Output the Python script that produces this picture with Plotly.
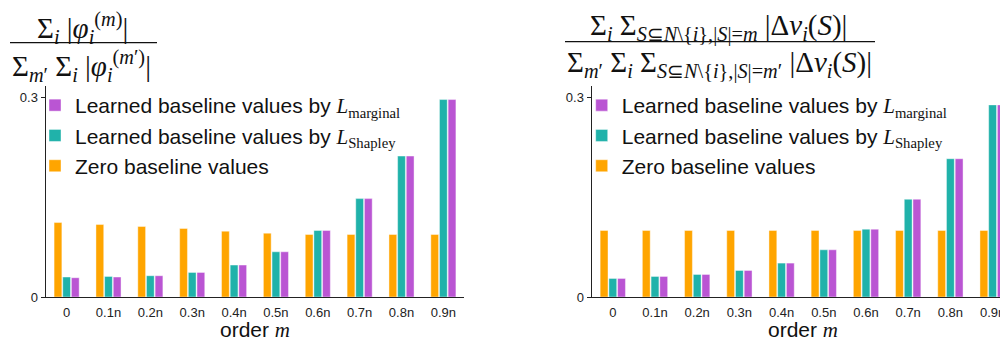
import plotly.graph_objects as go

categories = ["0", "0.1n", "0.2n", "0.3n", "0.4n", "0.5n", "0.6n", "0.7n", "0.8n", "0.9n"]

# Left panel: normalized |phi| strength
left_zero = [0.112, 0.109, 0.106, 0.103, 0.099, 0.096, 0.094, 0.094, 0.094, 0.094]
left_shapley = [0.030, 0.031, 0.032, 0.037, 0.048, 0.068, 0.100, 0.148, 0.212, 0.297]
left_marginal = [0.029, 0.030, 0.032, 0.037, 0.048, 0.068, 0.100, 0.148, 0.212, 0.297]

# Right panel: normalized |Delta v| strength
right_zero = [0.100, 0.100, 0.100, 0.100, 0.100, 0.100, 0.100, 0.100, 0.100, 0.100]
right_shapley = [0.028, 0.031, 0.034, 0.040, 0.051, 0.071, 0.102, 0.147, 0.208, 0.289]
right_marginal = [0.028, 0.031, 0.034, 0.040, 0.051, 0.071, 0.102, 0.147, 0.208, 0.289]

ORANGE = "#FFA500"
TEAL = "#20B2AA"
PURPLE = "#BA55D3"
SANS = "Liberation Sans, Arial, sans-serif"
SERIF = "Liberation Serif"

def sp(t):
    return "<span style=\"font-family:'%s'\">%s</span>" % (SERIF, t)

names = [
    "Zero baseline values",
    "Learned baseline values by " + sp("<i>L</i><sub>Shapley</sub>"),
    "Learned baseline values by " + sp("<i>L</i><sub>marginal</sub>"),
]
colors = [ORANGE, TEAL, PURPLE]

# page body adds an 8px offset; figure is sized to fill the rest of the window
OFF = 8
W, H = 1008 - OFF, 344 - OFF
MT, MB = 78, 47
PH = H - MT - MB

def px(X):
    return (X - OFF) / W

def py(Y):
    return (H - MB - (Y - OFF)) / PH

fig = go.Figure()
for vals, name, col in zip([left_zero, left_shapley, left_marginal], names, colors):
    fig.add_trace(go.Bar(x=categories, y=vals, name=name,
                         marker=dict(color=col, line=dict(color="rgba(255,255,255,0.7)", width=0.6)),
                         xaxis="x", yaxis="y", legend="legend"))
for vals, name, col in zip([right_zero, right_shapley, right_marginal], names, colors):
    fig.add_trace(go.Bar(x=categories, y=vals, name=name,
                         marker=dict(color=col, line=dict(color="rgba(255,255,255,0.7)", width=0.6)),
                         xaxis="x2", yaxis="y2", legend="legend2"))

ymax = 0.3174
axis_common = dict(showline=True, linecolor="#222", linewidth=1.3, showgrid=False, zeroline=False,
                   tickfont=dict(family=SANS, size=13, color="#222"))
fig.update_layout(
    width=W, height=H,
    margin=dict(l=0, r=0, t=MT, b=MB),
    paper_bgcolor="white", plot_bgcolor="white",
    barmode="group", bargap=0.38, bargroupgap=0.1,
    font=dict(family=SANS, color="#111"),
    xaxis=dict(domain=[px(45.7), px(464.3)], range=[-0.5, 9.5], ticks="", anchor="y",
               ticklabelstandoff=3, **axis_common),
    yaxis=dict(domain=[0, 1], range=[0, ymax], tickvals=[0, 0.3], ticktext=["0", "0.3"], ticks="outside",
               ticklen=4, tickcolor="#222", anchor="x", **axis_common),
    xaxis2=dict(domain=[px(591.7), 1.0], range=[-0.5, 9.365], ticks="", anchor="y2",
                ticklabelstandoff=3, **axis_common),
    yaxis2=dict(domain=[0, 1], range=[0, ymax], tickvals=[0, 0.3], ticktext=["0", "0.3"], ticks="outside",
                ticklen=4, tickcolor="#222", anchor="x2", **axis_common),
    legend=dict(x=px(35), y=py(85), xanchor="left", yanchor="top", traceorder="reversed",
                font=dict(family=SANS, size=21, color="#111"), bgcolor="rgba(0,0,0,0)"),
    legend2=dict(x=px(581.7), y=py(85), xanchor="left", yanchor="top", traceorder="reversed",
                 font=dict(family=SANS, size=21, color="#111"), bgcolor="rgba(0,0,0,0)"),
    showlegend=True,
)

tfont = dict(family=SERIF, size=29, color="#111")
left_num = "Σ<sub><i>i</i></sub> |<i>φ</i><sub><i>i</i></sub><sup>(<i>m</i>)</sup>|"
left_den = "Σ<sub><i>m</i>′</sub> Σ<sub><i>i</i></sub> |<i>φ</i><sub><i>i</i></sub><sup>(<i>m</i>′)</sup>|"
right_num = ("Σ<sub><i>i</i></sub> Σ<sub><i>S</i>⊆<i>N</i>\\{<i>i</i>},|<i>S</i>|=<i>m</i></sub> "
             "|Δ<i>v</i><sub><i>i</i></sub>(<i>S</i>)|")
right_den = ("Σ<sub><i>m</i>′</sub> Σ<sub><i>i</i></sub> Σ<sub><i>S</i>⊆<i>N</i>\\{<i>i</i>},|<i>S</i>|=<i>m</i>′</sub> "
             "|Δ<i>v</i><sub><i>i</i></sub>(<i>S</i>)|")

for txt, X, Y in [(left_num, 82, 28), (left_den, 81, 66), (right_num, 718, 27), (right_den, 719, 64)]:
    fig.add_annotation(text=txt, x=px(X), y=py(Y), xref="paper", yref="paper", showarrow=False,
                       xanchor="center", yanchor="middle", font=tfont)

for x0, x1, Y in [(10, 157, 42.7), (565, 875, 41.7)]:
    fig.add_shape(type="line", xref="paper", yref="paper", x0=px(x0), x1=px(x1), y0=py(Y), y1=py(Y),
                  line=dict(color="#111", width=1.3))

for X in [255, 803]:
    fig.add_annotation(text="order " + sp("<i>m</i>"), x=px(X), y=py(330), xref="paper", yref="paper",
                       showarrow=False, xanchor="center", yanchor="middle",
                       font=dict(family=SANS, size=21, color="#111"))

fig.write_html("out.html")
